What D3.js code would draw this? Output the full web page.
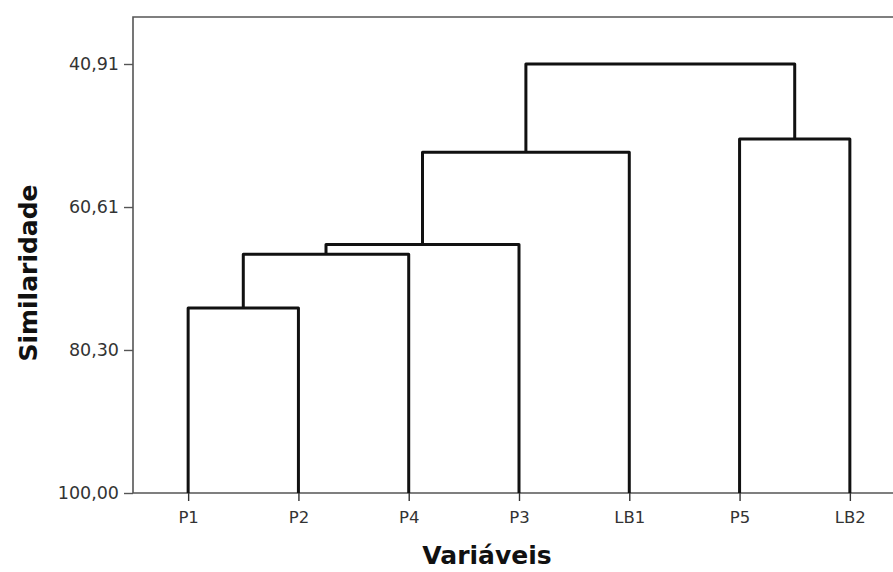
<!DOCTYPE html>
<html>
<head>
<meta charset="utf-8">
<script src="https://cdn.jsdelivr.net/npm/d3@7"></script>
<style>
  body { margin: 0; background: #fff; }
  svg { display: block; }
</style>
</head>
<body>
<script>
// Leaves, in dendrogram order
const leaves = ["P1", "P2", "P4", "P3", "LB1", "P5", "LB2"];
// Merges: left child, right child, similarity level
const mergeLeft  = ["P1", "C1", "C2", "C3", "P5",  "C4"];
const mergeRight = ["P2", "P4", "P3", "LB1", "LB2", "C5"];
const mergeLevel = [74.51, 67.13, 65.76, 53.08, 51.24, 40.91];
// Y tick values
const yTicks = [40.91, 60.61, 80.30, 100];

// Layout
var width   = 893
var height  = 572
var left    = 133
var top_    = 17
var bottom  = 493
var right   = 905

let svg = d3.select('body')
            .append('svg')
            .attr('width', width)
            .attr('height', height)

let x = d3.scalePoint()
          .domain(leaves)
          .range([left, right])
          .padding(0.5)

let y = d3.scaleLinear()
          .domain([100, 40.91])
          .range([bottom, 64])

// Node positions
let nodes = {}
leaves.forEach(l => nodes[l] = {x: x(l), v: 100})
mergeLeft.forEach((a, i) => {
    let b = mergeRight[i]
    nodes['C' + (i + 1)] = {x: (nodes[a].x + nodes[b].x) / 2, v: mergeLevel[i], a: a, b: b}
})

// Frame (left + top)
svg.append('path')
   .attr('d', `M${left},${bottom}V${top_}H${width + 10}`)
   .attr('fill', 'none')
   .attr('stroke', '#555')
   .attr('stroke-width', 1.6)

// Y axis
let yAxis = svg.append('g')
   .attr('transform', `translate(${left},0)`)
   .call(d3.axisLeft(y)
           .tickValues(yTicks)
           .tickSize(9)
           .tickPadding(5)
           .tickFormat(d => d.toFixed(2).replace('.', ',')))
yAxis.select('.domain').remove()
yAxis.selectAll('line').attr('stroke', '#555').attr('stroke-width', 1.4)
yAxis.selectAll('text')
     .attr('fill', '#333')
     .style('font-family', 'DejaVu Sans, Verdana, sans-serif')
     .style('font-size', '17.5px')

// X axis
let xAxis = svg.append('g')
   .attr('transform', `translate(0,${bottom})`)
   .call(d3.axisBottom(x).tickSize(8).tickPadding(10))
xAxis.select('.domain')
     .attr('d', `M${left},0H${width + 10}`)
     .attr('stroke', '#555')
     .attr('stroke-width', 1.6)
xAxis.selectAll('line').attr('stroke', '#333').attr('stroke-width', 1.4)
xAxis.selectAll('text')
     .attr('fill', '#333')
     .style('font-family', 'DejaVu Sans, Verdana, sans-serif')
     .style('font-size', '16.5px')

// Dendrogram links
let links = mergeLeft.map((a, i) => nodes['C' + (i + 1)])
svg.append('g')
   .selectAll('path')
   .data(links)
   .enter()
   .append('path')
   .attr('d', n => {
       let A = nodes[n.a], B = nodes[n.b]
       return `M${A.x},${y(A.v)}V${y(n.v)}H${B.x}V${y(B.v)}`
   })
   .attr('fill', 'none')
   .attr('stroke', '#111')
   .attr('stroke-width', 3)
   .attr('stroke-linejoin', 'round')

// Axis titles
svg.append('text')
   .attr('transform', 'translate(28,273) rotate(-90)')
   .attr('text-anchor', 'middle')
   .attr('dominant-baseline', 'central')
   .style('font-family', 'DejaVu Sans, Verdana, sans-serif')
   .style('font-weight', 'bold')
   .style('font-size', '25px')
   .attr('fill', '#111')
   .text('Similaridade')

svg.append('text')
   .attr('x', 487)
   .attr('y', 564)
   .attr('text-anchor', 'middle')
   .style('font-family', 'DejaVu Sans, Verdana, sans-serif')
   .style('font-weight', 'bold')
   .style('font-size', '25px')
   .attr('fill', '#111')
   .text('Variáveis')
</script>
</body>
</html>
